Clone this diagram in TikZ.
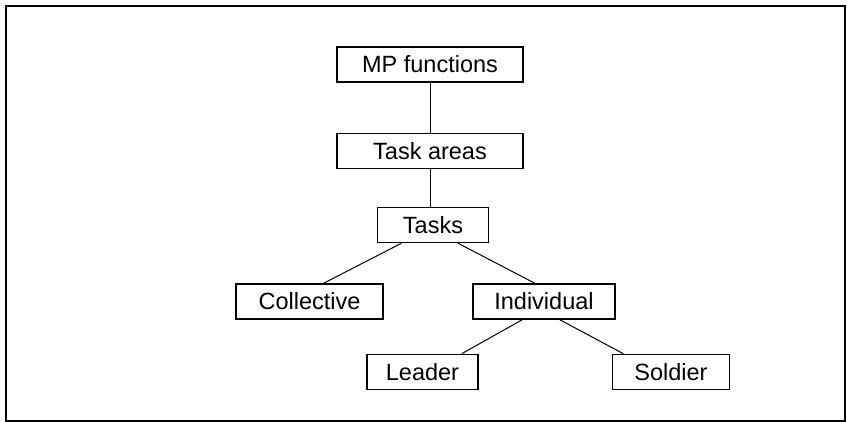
\documentclass[tikz,border=0pt]{standalone}
\usepackage{fontspec}
\setmainfont{Liberation Sans}
\begin{document}
\begin{tikzpicture}
  [x=1pt,y=-1pt,every node/.style={draw,line width=1.6pt,rectangle,inner sep=0pt,
   minimum height=35pt,font=\fontsize{23.5}{27}\selectfont}]
  \useasboundingbox (0,0) rectangle (847,422);
  \draw[line width=2pt] (5.7,5.7) rectangle (844.5,420.5);

  \node[minimum width=186pt] (mpf) at (430,64.5) {MP functions};
  \node[minimum width=186pt] (area) at (430,151) {Task areas};
  \node[minimum width=111pt] (task) at (433,225) {Tasks};
  \node[minimum width=147pt] (coll) at (309.5,301.5) {Collective};
  \node[minimum width=142pt] (indiv) at (544,301.5) {Individual};
  \node[minimum width=111pt] (lead) at (422.5,372) {Leader};
  \node[minimum width=117pt] (sold) at (671,372) {Soldier};

  \draw[line width=1pt] (mpf.south -| 430,0) -- (area.north -| 430,0);
  \draw[line width=1pt] (area.south -| 430,0) -- (task.north -| 430,0);
  \foreach \from/\to in {task.-150/coll.52,task.-36/indiv.117,indiv.-140/lead.25,indiv.-49/sold.159}
    \draw[line width=1pt] (\from) -- (\to);

\end{tikzpicture}
\end{document}
